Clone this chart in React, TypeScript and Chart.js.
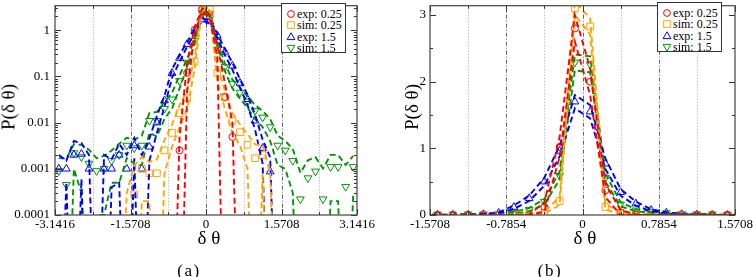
import React, { useEffect, useRef } from "react";
import { Chart, registerables } from "chart.js";

Chart.register(...registerables);

// ---- data (bin centres in rad, P values, and error half-widths) ----
const binCenters = [
  -3.0631, -2.906, -2.7489, -2.5918, -2.4347, -2.2777, -2.1206, -1.9635, -1.8064, -1.6493,
  -1.4923, -1.3352, -1.1781, -1.021, -0.8639, -0.7069, -0.5498, -0.3927, -0.2356, -0.0785,
  0.0785, 0.2356, 0.3927, 0.5498, 0.7069, 0.8639, 1.021, 1.1781, 1.3352, 1.4923,
  1.6493, 1.8064, 1.9635, 2.1206, 2.2777, 2.4347, 2.5918, 2.7489, 2.906, 3.0631,
];

const expLowValues = [
  0, 0, 0, 0, 0, 0, 0, 0, 0, 0,
  0, 0, 0, 0, 0, 0, 0.0025, 0.12, 1.02, 2.8,
  2.0, 0.37, 0.036, 0.0049, 0, 0, 0, 0, 0, 0,
  0, 0, 0, 0, 0, 0, 0, 0, 0, 0,
];
const expLowErr = [
  0, 0, 0, 0, 0, 0, 0, 0, 0, 0,
  0, 0, 0, 0, 0, 0, 0.0025, 0.07, 0.15, 0.2,
  0.2, 0.1, 0.036, 0.0049, 0, 0, 0, 0, 0, 0,
  0, 0, 0, 0, 0, 0, 0, 0, 0, 0,
];

const simLowValues = [
  0, 0, 0, 0, 0, 0, 0, 0, 0, 0,
  0.00028, 0.001, 0.0008, 0.0008, 0.0025, 0.006, 0.016, 0.034, 0.21, 3.1,
  2.83, 0.12, 0.035, 0.011, 0.0062, 0.0033, 0.0017, 0.002, 0, 0,
  0, 0, 0, 0, 0, 0, 0, 0, 0, 0,
];
const simLowErr = [
  0, 0, 0, 0, 0, 0, 0, 0, 0, 0.0003,
  0.0009, 0.0008, 0.0006, 0.0008, 0.0017, 0.003, 0.008, 0.015, 0.06, 0.1,
  0.12, 0.04, 0.015, 0.005, 0.003, 0.0023, 0.0017, 0.0012, 0.0008, 0,
  0, 0, 0, 0, 0, 0, 0, 0, 0, 0,
];

const expHighValues = [
  0.001, 0.001, 0.002, 0.0021, 0.001, 0, 0.001, 0.001, 0.002, 0.001,
  0.0032, 0.001, 0.003, 0.01, 0.03, 0.118, 0.25, 0.5, 0.96, 1.7,
  1.55, 0.77, 0.34, 0.17, 0.072, 0.032, 0.011, 0.0028, 0.00087, 0,
  0, 0, 0, 0, 0, 0, 0, 0, 0, 0,
];
const expHighErr = [
  0.001, 0.0005, 0.002, 0.0015, 0.001, 0, 0.001, 0.0006, 0.0015, 0.001,
  0.0015, 0.001, 0.0015, 0.004, 0.008, 0.025, 0.04, 0.06, 0.08, 0.1,
  0.1, 0.08, 0.05, 0.03, 0.015, 0.008, 0.004, 0.0015, 0.0009, 0,
  0, 0, 0, 0, 0, 0, 0, 0, 0, 0,
];

const simHighValues = [
  0.0009, 0.00045, 0.0022, 0.0018, 0.0013, 0.0009, 0.001, 0.0015, 0.002, 0.0032,
  0.0028, 0.0032, 0.011, 0.011, 0.02, 0.032, 0.08, 0.2, 0.59, 2.29,
  2.26, 0.56, 0.16, 0.07, 0.045, 0.029, 0.018, 0.013, 0.008, 0.0032,
  0.0025, 0.0015, 0.00022, 0.00063, 0.00088, 0.00022, 0.0011, 0.0011, 0.00041, 0.0011,
];
const simHighErr = [
  0.0008, 0.0012, 0.0012, 0.0015, 0.0013, 0.0008, 0.0009, 0.001, 0.0015, 0.0015,
  0.0015, 0.002, 0.005, 0.006, 0.008, 0.012, 0.025, 0.04, 0.06, 0.12,
  0.12, 0.06, 0.03, 0.015, 0.012, 0.008, 0.006, 0.005, 0.004, 0.002,
  0.0015, 0.0012, 0.0006, 0.0009, 0.0009, 0.0008, 0.0009, 0.0009, 0.0008, 0.0008,
];

const seriesLabels = ["exp: 0.25", "sim: 0.25", "exp: 1.5", "sim: 1.5"];

// ---- tick labels ----
const xTicksA = [-3.1416, -1.5708, 0, 1.5708, 3.1416];
const xTickLabelsA = ["-3.1416", "-1.5708", "0", "1.5708", "3.1416"];
const xMinorA = [-2.3562, -0.7854, 0.7854, 2.3562];
const yTicksA = [0.0001, 0.001, 0.01, 0.1, 1];
const yTickLabelsA = ["0.0001", "0.001", "0.01", "0.1", "1"];

const xTicksB = [-1.5708, -0.7854, 0, 0.7854, 1.5708];
const xTickLabelsB = ["-1.5708", "-0.7854", "0", "0.7854", "1.5708"];
const xMinorB = [-1.1781, -0.3927, 0.3927, 1.1781];
const yTicksB = [0, 1, 2, 3];
const yTickLabelsB = ["0", "1", "2", "3"];
const yMinorB = [0.5, 1.5, 2.5];

// ---- styles ----
const SERIF = '"Liberation Serif", "Times New Roman", serif';
const COLORS = ["rgb(255,0,0)", "rgb(255,165,0)", "rgb(0,0,255)", "rgb(0,150,0)"];
const MARKERS = [
  { pointStyle: "circle", rotation: 0, radius: 3.5 },
  { pointStyle: "rect", rotation: 0, radius: 4.7 },
  { pointStyle: "triangle", rotation: 0, radius: 4.5 },
  { pointStyle: "triangle", rotation: 180, radius: 4.5 },
];

const seriesData = [
  { values: expLowValues, err: expLowErr },
  { values: simLowValues, err: simLowErr },
  { values: expHighValues, err: expHighErr },
  { values: simHighValues, err: simHighErr },
];

type Spec = {
  log: boolean;
  xMin: number; xMax: number; yMin: number; yMax: number;
  xTicks: number[]; xTickLabels: string[]; xMinor: number[];
  yTicks: number[]; yTickLabels: string[]; yMinor: number[];
  width: number; height: number;
  areaLeft: number; areaRight: number; areaTop: number; areaBottom: number;
  yPad: number;
};

const logMinor: number[] = [];
for (const d of yTicksA) {
  for (let m = 2; m <= 9; m++) {
    if (d * m < 3.4) logMinor.push(d * m);
  }
}

const specA: Spec = {
  log: true, xMin: -3.1416, xMax: 3.1416, yMin: 0.0001, yMax: 3.4,
  xTicks: xTicksA, xTickLabels: xTickLabelsA, xMinor: xMinorA,
  yTicks: yTicksA, yTickLabels: yTickLabelsA, yMinor: logMinor,
  width: 376, height: 277, areaLeft: 55, areaRight: 357, areaTop: 3, areaBottom: 215, yPad: 5,
};
const specB: Spec = {
  log: false, xMin: -1.5708, xMax: 1.5708, yMin: 0, yMax: 3.14,
  xTicks: xTicksB, xTickLabels: xTickLabelsB, xMinor: xMinorB,
  yTicks: yTicksB, yTickLabels: yTickLabelsB, yMinor: yMinorB,
  width: 377, height: 277, areaLeft: 54, areaRight: 359, areaTop: 2, areaBottom: 215, yPad: 4,
};

function buildDatasets(log: boolean) {
  const floor = log ? 1e-8 : 0;
  const lines: any[] = [];
  const marks: any[] = [];
  seriesData.forEach((s, i) => {
    const upper = binCenters.map((x, j) => {
      const v = s.values[j] + s.err[j];
      return { x, y: v > 0 ? v : floor };
    });
    const lower = binCenters.map((x, j) => {
      const v = s.values[j] - s.err[j];
      return { x, y: v > 1e-9 ? v : floor };
    });
    for (const d of [upper, lower]) {
      lines.push({
        data: d,
        borderColor: COLORS[i],
        borderWidth: 1.9,
        borderDash: [6, 3.5],
        pointRadius: 0,
        fill: false,
        tension: 0,
      });
    }
    marks.push({
      label: seriesLabels[i],
      data: binCenters.map((x, j) => ({ x, y: s.values[j] > 0 ? s.values[j] : log ? null : 0 })),
      showLine: false,
      borderColor: COLORS[i],
      backgroundColor: "rgba(0,0,0,0)",
      pointBackgroundColor: "rgba(0,0,0,0)",
      pointBorderColor: COLORS[i],
      pointBorderWidth: 1,
      pointStyle: MARKERS[i].pointStyle,
      pointRotation: MARKERS[i].rotation,
      pointRadius: MARKERS[i].radius,
    });
  });
  return [...lines, ...marks];
}

function framePlugin(spec: Spec) {
  const vline = (ctx: CanvasRenderingContext2D, x: number, y0: number, y1: number) => {
    ctx.beginPath();
    ctx.moveTo(x, y0);
    ctx.lineTo(x, y1);
    ctx.stroke();
  };
  const hline = (ctx: CanvasRenderingContext2D, y: number, x0: number, x1: number) => {
    ctx.beginPath();
    ctx.moveTo(x0, y);
    ctx.lineTo(x1, y);
    ctx.stroke();
  };
  return {
    id: "frameGrid",
    beforeDatasetsDraw(chart: any) {
      const { ctx, chartArea: a } = chart;
      const xs = chart.scales.x;
      ctx.save();
      ctx.lineWidth = 1;
      ctx.strokeStyle = "#a8a8a8";
      ctx.setLineDash([1, 2]);
      for (const v of spec.xMinor) {
        const px = Math.round(xs.getPixelForValue(v)) + 0.5;
        vline(ctx, px, a.top, a.bottom);
      }
      ctx.strokeStyle = "#666";
      ctx.setLineDash([4, 2, 1, 2]);
      for (const v of spec.xTicks) {
        if (v <= spec.xMin || v >= spec.xMax) continue;
        const px = Math.round(xs.getPixelForValue(v)) + 0.5;
        vline(ctx, px, a.top, a.bottom);
      }
      ctx.restore();
    },
    afterDatasetsDraw(chart: any) {
      const { ctx, chartArea: a } = chart;
      const xs = chart.scales.x;
      const ys = chart.scales.y;
      ctx.save();
      ctx.setLineDash([]);
      ctx.strokeStyle = "#333";
      ctx.lineWidth = 1;
      const maj = 6;
      const min = 3;
      for (const v of spec.xTicks) {
        const px = Math.round(xs.getPixelForValue(v)) + 0.5;
        vline(ctx, px, a.bottom, a.bottom - maj);
        vline(ctx, px, a.top, a.top + maj);
      }
      for (const v of spec.xMinor) {
        const px = Math.round(xs.getPixelForValue(v)) + 0.5;
        vline(ctx, px, a.bottom, a.bottom - min);
        vline(ctx, px, a.top, a.top + min);
      }
      for (const v of spec.yTicks) {
        const py = Math.round(ys.getPixelForValue(v)) + 0.5;
        hline(ctx, py, a.left, a.left + maj);
        hline(ctx, py, a.right, a.right - maj);
      }
      for (const v of spec.yMinor) {
        const py = Math.round(ys.getPixelForValue(v)) + 0.5;
        hline(ctx, py, a.left, a.left + min);
        hline(ctx, py, a.right, a.right - min);
      }
      ctx.strokeStyle = "#444";
      ctx.lineWidth = 1.2;
      ctx.strokeRect(a.left, a.top, a.right - a.left, a.bottom - a.top);
      ctx.restore();
    },
  };
}

function zeroPadding(s: any) {
  s.paddingTop = 0;
  s.paddingBottom = 0;
  s.paddingLeft = 0;
  s.paddingRight = 0;
}

function Panel({ spec, left }: { spec: Spec; left: number }) {
  const ref = useRef<HTMLCanvasElement | null>(null);
  useEffect(() => {
    if (!ref.current) return;
    const chart = new Chart(ref.current, {
      type: "line",
      data: { datasets: buildDatasets(spec.log) },
      options: {
        animation: false,
        responsive: false,
        maintainAspectRatio: false,
        events: [],
        layout: {
          padding: { left: 0, right: spec.width - spec.areaRight, top: spec.areaTop, bottom: 0 },
        },
        plugins: { legend: { display: false }, tooltip: { enabled: false } },
        scales: {
          x: {
            type: "linear",
            min: spec.xMin,
            max: spec.xMax,
            afterBuildTicks: (s: any) => {
              s.ticks = spec.xTicks.map((v) => ({ value: v }));
            },
            afterFit: (s: any) => {
              s.height = spec.height - spec.areaBottom;
              zeroPadding(s);
            },
            grid: { display: false, drawTicks: false },
            border: { display: false },
            ticks: {
              autoSkip: false,
              maxRotation: 0,
              padding: 2,
              color: "#000",
              font: { family: SERIF, size: 13 },
              callback: (_v: any, i: number) => spec.xTickLabels[i],
            },
          },
          y: {
            type: spec.log ? "logarithmic" : "linear",
            min: spec.yMin,
            max: spec.yMax,
            afterBuildTicks: (s: any) => {
              s.ticks = spec.yTicks.map((v) => ({ value: v }));
            },
            afterFit: (s: any) => {
              s.width = spec.areaLeft;
              zeroPadding(s);
            },
            grid: { display: false, drawTicks: false },
            border: { display: false },
            ticks: {
              autoSkip: false,
              padding: spec.yPad,
              color: "#000",
              font: { family: SERIF, size: 13 },
              callback: (_v: any, i: number) => spec.yTickLabels[i],
            },
          },
        },
      } as any,
      plugins: [framePlugin(spec)],
    });
    return () => chart.destroy();
  }, [spec]);
  return (
    <canvas
      ref={ref}
      width={spec.width}
      height={spec.height}
      style={{ position: "absolute", left, top: 0, width: spec.width, height: spec.height }}
    />
  );
}

function MarkerIcon({ i }: { i: number }) {
  const c = COLORS[i];
  return (
    <svg width={10} height={10} style={{ position: "absolute", left: -5, top: -5 }}>
      {i === 0 && <circle cx={5} cy={5} r={3.4} fill="none" stroke={c} strokeWidth={1} />}
      {i === 1 && <rect x={1.7} y={1.7} width={6.6} height={6.6} fill="none" stroke={c} strokeWidth={1} />}
      {i === 2 && <polygon points="5,0.8 8.9,7.6 1.1,7.6" fill="none" stroke={c} strokeWidth={1} />}
      {i === 3 && <polygon points="5,9.2 8.9,2.4 1.1,2.4" fill="none" stroke={c} strokeWidth={1} />}
    </svg>
  );
}

function Legend({ left, top }: { left: number; top: number }) {
  return (
    <div
      style={{
        position: "absolute",
        left,
        top,
        width: 65,
        height: 50,
        boxSizing: "border-box",
        border: "1px solid #333",
        background: "#fff",
        fontFamily: SERIF,
        fontSize: 12,
        color: "#000",
      }}
    >
      {seriesLabels.map((lab, i) => (
        <React.Fragment key={lab}>
          <div style={{ position: "absolute", left: 8.5, top: 9.5 + i * 11.5 }}>
            <MarkerIcon i={i} />
          </div>
          <span
            style={{
              position: "absolute",
              left: 15,
              top: 9.5 + i * 11.5 - 7,
              lineHeight: "14px",
              whiteSpace: "nowrap",
            }}
          >
            {lab}
          </span>
        </React.Fragment>
      ))}
    </div>
  );
}

function Label({ x, y, text, size, rotate, spacing }: { x: number; y: number; text: string; size: number; rotate?: boolean; spacing?: number }) {
  return (
    <div
      style={{
        position: "absolute",
        left: x,
        top: y,
        transform: `translate(-50%, -50%)${rotate ? " rotate(-90deg)" : ""}`,
        fontFamily: SERIF,
        fontSize: size,
        lineHeight: 1,
        letterSpacing: spacing || 0,
        whiteSpace: "nowrap",
        color: "#000",
      }}
    >
      {text}
    </div>
  );
}

export default function App() {
  return (
    <div style={{ position: "fixed", left: 0, top: 0, width: 753, height: 277, background: "#fff", overflow: "hidden" }}>
      <Panel spec={specA} left={0} />
      <Panel spec={specB} left={376} />
      <Legend left={281} top={3} />
      <Legend left={657} top={2} />
      <Label x={8} y={107} text="P(δ θ)" size={19} rotate />
      <Label x={411} y={107} text="P(δ θ)" size={19} rotate />
      <Label x={209} y={237} text="δ θ" size={19} />
      <Label x={585} y={237} text="δ θ" size={19} />
      <Label x={189} y={270} text="(a)" size={17} spacing={1.5} />
      <Label x={550} y={270} text="(b)" size={17} spacing={1.5} />
    </div>
  );
}
